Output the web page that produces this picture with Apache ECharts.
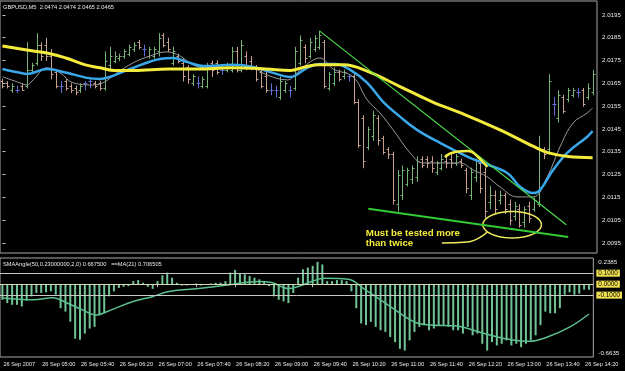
<!DOCTYPE html>
<html><head><meta charset="utf-8">
<script src="https://cdn.jsdelivr.net/npm/echarts@6/dist/echarts.min.js"></script>
<style>html,body{margin:0;padding:0;background:#000;}#c{width:625px;height:371px;}</style>
</head><body><div id="c"></div>
<script>
const headerText = 'GBPUSD,M5  2.0474 2.0474 2.0465 2.0465';
const oscText = 'SMAAngle(50,0.23000000,2,0) 0.667500   ==MA(21) 0.706505';
const timeLabels = ['26 Sep 2007','26 Sep 05:00','26 Sep 05:40','26 Sep 06:20','26 Sep 07:00','26 Sep 07:40','26 Sep 08:20','26 Sep 09:00','26 Sep 09:40','26 Sep 10:20','26 Sep 11:00','26 Sep 11:40','26 Sep 12:20','26 Sep 13:00','26 Sep 13:40','26 Sep 14:20'];
const barsPerLabel = 8;
const priceTicks = [2.0095,2.0105,2.0115,2.0125,2.0135,2.0145,2.0155,2.0165,2.0175,2.0185,2.0195];
const oscTicks = [0.2385,0.1,0,-0.1,-0.6635];
const oscLevels = [0.1,0,-0.1];

const opens = [2.0166,2.0165,2.0162,2.0162,2.0164,2.0164,2.0171,2.0174,2.0182,2.0182,
2.0177,2.0170,2.0164,2.0166,2.0164,2.0163,2.0162,2.0165,2.0166,2.0165,
2.0165,2.0163,2.0173,2.0175,2.0176,2.0177,2.0178,2.0180,2.0183,2.0180,
2.0177,2.0177,2.0179,2.0186,2.0183,2.0174,2.0177,2.0174,2.0172,2.0165,
2.0165,2.0164,2.0164,2.0174,2.0174,2.0171,2.0171,2.0171,2.0179,2.0171,
2.0177,2.0175,2.0172,2.0170,2.0168,2.0162,2.0162,2.0159,2.0162,2.0162,
2.0163,2.0174,2.0181,2.0177,2.0180,2.0181,2.0183,2.0163,2.0165,2.0170,
2.0168,2.0168,2.0168,2.0157,2.0150,2.0137,2.0142,2.0150,2.0141,2.0136,
2.0134,2.0112,2.0116,2.0121,2.0123,2.0124,2.0132,2.0132,2.0131,2.0126,
2.0128,2.0131,2.0132,2.0130,2.0131,2.0127,2.0116,2.0124,2.0130,2.0126,
2.0113,2.0116,2.0114,2.0116,2.0112,2.0107,2.0110,2.0104,2.0111,2.0110,
2.0112,2.0136,2.0136,2.0156,2.0150,2.0159,2.0158,2.0160,2.0161,2.0162,
2.0159,2.0161];
const highs = [2.0167,2.0166,2.0165,2.0164,2.0165,2.0183,2.0174,2.0187,2.0183,2.0185,
2.0180,2.0171,2.0166,2.0167,2.0165,2.0164,2.0165,2.0166,2.0167,2.0166,
2.0166,2.0179,2.0181,2.0179,2.0178,2.0180,2.0182,2.0183,2.0184,2.0182,
2.0181,2.0181,2.0187,2.0187,2.0185,2.0181,2.0178,2.0176,2.0173,2.0169,
2.0168,2.0168,2.0174,2.0175,2.0175,2.0173,2.0174,2.0181,2.0181,2.0184,
2.0179,2.0177,2.0173,2.0171,2.0170,2.0165,2.0164,2.0168,2.0166,2.0164,
2.0181,2.0186,2.0182,2.0185,2.0186,2.0188,2.0184,2.0170,2.0172,2.0171,
2.0171,2.0169,2.0169,2.0158,2.0151,2.0146,2.0153,2.0151,2.0142,2.0137,
2.0135,2.0127,2.0129,2.0128,2.0129,2.0133,2.0133,2.0133,2.0133,2.0131,
2.0134,2.0134,2.0134,2.0134,2.0132,2.0128,2.0128,2.0132,2.0131,2.0128,
2.0120,2.0118,2.0118,2.0117,2.0114,2.0113,2.0112,2.0111,2.0113,2.0115,
2.0142,2.0137,2.0169,2.0159,2.0162,2.0160,2.0163,2.0163,2.0163,2.0163,
2.0165,2.0171];
const lows = [2.0163,2.0163,2.0161,2.0161,2.0162,2.0163,2.0170,2.0173,2.0175,2.0175,
2.0167,2.0163,2.0161,2.0162,2.0161,2.0160,2.0161,2.0162,2.0163,2.0163,
2.0162,2.0162,2.0171,2.0174,2.0175,2.0176,2.0177,2.0179,2.0180,2.0177,
2.0176,2.0176,2.0177,2.0181,2.0179,2.0173,2.0174,2.0166,2.0165,2.0164,
2.0163,2.0163,2.0163,2.0168,2.0169,2.0169,2.0170,2.0170,2.0170,2.0170,
2.0171,2.0171,2.0166,2.0163,2.0161,2.0160,2.0159,2.0158,2.0161,2.0159,
2.0162,2.0173,2.0174,2.0176,2.0179,2.0180,2.0163,2.0162,2.0164,2.0166,
2.0167,2.0166,2.0156,2.0137,2.0128,2.0136,2.0140,2.0138,2.0134,2.0132,
2.0112,2.0109,2.0114,2.0120,2.0121,2.0122,2.0128,2.0128,2.0126,2.0125,
2.0127,2.0128,2.0128,2.0129,2.0128,2.0117,2.0114,2.0122,2.0117,2.0106,
2.0110,2.0108,2.0112,2.0108,2.0103,2.0105,2.0102,2.0102,2.0104,2.0109,
2.0111,2.0132,2.0134,2.0151,2.0148,2.0152,2.0157,2.0159,2.0159,2.0155,
2.0158,2.0160];
const closes = [2.0164,2.0164,2.0164,2.0162,2.0162,2.0171,2.0173,2.0182,2.0177,2.0177,
2.0169,2.0164,2.0164,2.0163,2.0162,2.0161,2.0164,2.0165,2.0166,2.0164,
2.0163,2.0175,2.0177,2.0177,2.0177,2.0179,2.0181,2.0182,2.0181,2.0180,
2.0180,2.0180,2.0185,2.0182,2.0180,2.0179,2.0175,2.0168,2.0167,2.0168,
2.0165,2.0167,2.0173,2.0171,2.0170,2.0171,2.0173,2.0179,2.0171,2.0182,
2.0172,2.0172,2.0167,2.0164,2.0162,2.0162,2.0162,2.0166,2.0165,2.0162,
2.0179,2.0184,2.0176,2.0183,2.0185,2.0186,2.0164,2.0169,2.0170,2.0167,
2.0170,2.0168,2.0157,2.0138,2.0131,2.0145,2.0151,2.0140,2.0135,2.0134,
2.0114,2.0125,2.0127,2.0127,2.0128,2.0131,2.0129,2.0130,2.0128,2.0130,
2.0132,2.0130,2.0130,2.0133,2.0129,2.0119,2.0126,2.0131,2.0119,2.0109,
2.0116,2.0110,2.0116,2.0110,2.0105,2.0111,2.0103,2.0110,2.0106,2.0114,
2.0136,2.0134,2.0166,2.0156,2.0160,2.0153,2.0162,2.0162,2.0161,2.0156,
2.0163,2.0169];

const yellowMA = [[0,2.01814],[6,2.01793],[10,2.01779],[13,2.01761],[17,2.01731],[20,2.01718],[23,2.01706],[27,2.01706],[34,2.01713],[40,2.01713],[47,2.01718],[54,2.01713],[59,2.01706],[62,2.01722],[65,2.01731],[70,2.01731],[75,2.01701],[81.5,2.01636],[88,2.0157],[95,2.01511],[102,2.01446],[109,2.01372],[112,2.01345],[116,2.01329],[121,2.01324]];
const blueMA = [[0,2.01713],[3.6,2.01696],[5,2.01691],[6.3,2.01696],[9.1,2.01713],[13.2,2.01696],[17.3,2.01674],[20,2.01669],[22,2.01678],[26.8,2.01718],[32.3,2.01757],[35,2.01761],[37.8,2.01744],[41.1,2.01726],[47.3,2.01731],[51.4,2.01722],[55.5,2.01696],[59,2.01678],[62.5,2.01718],[65.1,2.01735],[68.2,2.01735],[71.3,2.01709],[74.8,2.01652],[78,2.0157],[81.5,2.01504],[85,2.01446],[89.7,2.01389],[95.3,2.01329],[98.5,2.01301],[103.5,2.01257],[106.1,2.01197],[108.8,2.01169],[110.2,2.01182],[112.9,2.0127],[115.8,2.01345],[119.9,2.01416],[121,2.01441]];
const greyMA = [[0,2.01679],[3.6,2.01652],[5,2.01643],[6.3,2.01665],[9.1,2.01718],[11.8,2.01696],[14.5,2.01652],[18.6,2.01643],[20.6,2.01652],[23.5,2.01696],[26.8,2.0174],[30.3,2.0177],[33.7,2.01788],[36.4,2.0177],[39.1,2.01731],[41.9,2.01718],[47.3,2.01731],[51.4,2.01718],[54.2,2.01687],[58.4,2.01665],[60.4,2.01696],[63.1,2.01744],[65.1,2.01761],[67.8,2.01713],[71.9,2.01678],[74.8,2.01577],[77.4,2.0152],[80.1,2.01446],[83.6,2.01345],[86.2,2.01301],[89.7,2.01301],[93.8,2.01301],[96.5,2.0127],[99.4,2.0124],[102,2.01196],[105.5,2.01152],[108.8,2.01152],[111.7,2.0124],[114.3,2.01371],[117,2.01476],[119.9,2.0152],[121,2.01542]];

const oscHist = [-0.142,-0.172,-0.188,-0.188,-0.203,-0.15,-0.111,-0.08,-0.08,-0.074,
-0.065,-0.095,-0.219,-0.25,-0.342,-0.497,-0.506,-0.45,-0.404,-0.389,
-0.281,-0.265,-0.111,-0.065,-0.034,-0.024,-0.018,0.028,0.037,0.013,
-0.024,-0.043,0.028,0.081,0.105,0.059,0.013,-0.012,-0.012,-0.003,
0.006,-0.012,-0.006,0.006,0.013,0.013,0.028,0.105,0.13,0.099,
0.09,0.074,0.059,0.044,0.028,-0.018,-0.111,-0.142,-0.157,-0.172,
-0.08,0.059,0.136,0.151,0.167,0.204,0.18,0.028,0.028,0.037,
0.037,0.028,-0.065,-0.219,-0.358,-0.373,-0.343,-0.389,-0.42,-0.435,
-0.481,-0.528,-0.589,-0.605,-0.512,-0.435,-0.389,-0.373,-0.42,-0.404,
-0.373,-0.373,-0.389,-0.42,-0.42,-0.45,-0.389,-0.466,-0.45,-0.543,
-0.605,-0.528,-0.558,-0.543,-0.512,-0.558,-0.543,-0.574,-0.543,-0.512,
-0.466,-0.373,-0.25,-0.265,-0.265,-0.219,-0.096,-0.074,-0.096,-0.086,
-0.05,-0.05];
const oscMA = [[0,-0.126],[6.3,-0.142],[10.4,-0.123],[13.2,-0.169],[16.5,-0.234],[19.4,-0.281],[21.4,-0.253],[26.8,-0.16],[30.9,-0.114],[34.4,-0.067],[40.5,-0.04],[47.3,-0.003],[52.8,0.025],[55.5,0.016],[59,-0.04],[61,-0.021],[65.1,0.044],[66.6,0.053],[71.3,0.044],[74.8,-0.049],[80.1,-0.206],[85,-0.345],[88.3,-0.373],[93.8,-0.382],[98.5,-0.438],[103.5,-0.494],[108.8,-0.521],[112.3,-0.484],[117,-0.392],[121,-0.272]];

const upperTrend = [[65,2.0188],[115.6,2.0103]];
const lowerTrend = [[75,2.0110],[116,2.00976]];
const highlightArc = [[90.7,2.01327],[92.8,2.01349],[95.5,2.01353],[97.5,2.01327],[99.4,2.01283]];
const pointerLine = [[90.1,2.0095],[95.3,2.00954],[99.4,2.00998]];
const ellipseMark = [[104.5,2.0103,6,0.00058]];
const noteTexts = ['Must be tested more','than twice'];
const notePos = [[74.5,2.00994],[74.5,2.0095]];

const UP='#78b478', DOWN='#c8a090', DOJI='#6070d8';
const FONT='Liberation Sans';

const chart = echarts.init(document.getElementById('c'), null, {renderer:'canvas'});
const tickIdx = timeLabels.map((_,k)=>k*barsPerLabel);
const near=(a,b)=>Math.abs(a-b)<1e-9;

chart.setOption({
  backgroundColor:'#000',
  animation:false,
  title:[
    {text:headerText,left:3,top:4,padding:0,textStyle:{color:'#e8e8e8',fontSize:5.7,fontWeight:'normal',fontFamily:FONT}},
    {text:oscText,left:3,top:261,padding:0,textStyle:{color:'#e8e8e8',fontSize:5.7,fontWeight:'normal',fontFamily:FONT}}
  ],
  grid:[
    {left:0,top:1,width:597,height:252,show:true,borderColor:'#a8a8a8',borderWidth:1},
    {left:0,top:258,width:597,height:99,show:true,borderColor:'#a8a8a8',borderWidth:1}
  ],
  xAxis:[
    {gridIndex:0,type:'value',min:-0.5,max:121.9,show:false},
    {gridIndex:1,type:'value',min:-0.5,max:121.9,splitLine:{show:false},axisLine:{show:false},
     axisTick:{show:true,customValues:tickIdx,length:3,lineStyle:{color:'#c0c0c0'}},
     axisLabel:{customValues:tickIdx,formatter:(v)=>timeLabels[Math.round(v/barsPerLabel)],color:'#e8e8e8',fontSize:5.6,fontFamily:FONT,align:'left',margin:4,padding:[0,0,0,1]}}
  ],
  yAxis:[
    {gridIndex:0,type:'value',position:'right',min:2.00906,max:2.02011,splitLine:{show:false},axisLine:{show:false},
     axisTick:{show:true,customValues:priceTicks,length:3,lineStyle:{color:'#c0c0c0'}},
     axisLabel:{customValues:priceTicks,formatter:(v)=>v.toFixed(4),color:'#e8e8e8',fontSize:6.2,fontFamily:FONT,margin:5}},
    {gridIndex:1,type:'value',position:'right',min:-0.6635,max:0.2385,splitLine:{show:false},axisLine:{show:false},
     axisTick:{show:false},
     axisLabel:{customValues:oscTicks,margin:3,fontSize:6.2,fontFamily:FONT,color:'#e8e8e8',
       formatter:(v)=>{const s=v.toFixed(4); if(near(v,oscTicks[0])) return '{t|'+s+'}'; if(near(v,oscTicks[oscTicks.length-1])) return '{b|'+s+'}'; return '{y|'+s+'}';},
       rich:{t:{padding:[9,0,0,2],color:'#e8e8e8',fontSize:6.2,fontFamily:FONT},
             b:{padding:[0,0,7,2],color:'#e8e8e8',fontSize:6.2,fontFamily:FONT},
             y:{backgroundColor:'#f0e050',color:'#000',padding:[1,2,0,2],fontSize:6.4,fontFamily:FONT}}}}
  ],
  series:[
    {type:'custom',xAxisIndex:0,yAxisIndex:0,z:2,
     data:opens.map((o,i)=>[i,o,highs[i],lows[i],closes[i]]),
     encode:{x:0,y:[1,2,3,4]},
     renderItem:(params,api)=>{
       const i=api.value(0),o=api.value(1),h=api.value(2),l=api.value(3),c=api.value(4);
       const pH=api.coord([i,h]),pL=api.coord([i,l]),pO=api.coord([i,o]),pC=api.coord([i,c]);
       const x=Math.round(pH[0])+0.5;
       const col=c>o?UP:(c<o?DOWN:DOJI);
       const yo=Math.round(pO[1])+0.5, yc=Math.round(pC[1])+0.5;
       return {type:'group',children:[
         {type:'line',shape:{x1:x,y1:pH[1],x2:x,y2:pL[1]+0.5},style:{stroke:col,lineWidth:1}},
         {type:'line',shape:{x1:x-2,y1:yo,x2:x,y2:yo},style:{stroke:col,lineWidth:1}},
         {type:'line',shape:{x1:x,y1:yc,x2:x+2,y2:yc},style:{stroke:col,lineWidth:1}}
       ]};
     }},
    {type:'line',xAxisIndex:0,yAxisIndex:0,data:greyMA,showSymbol:false,smooth:0.4,z:3,lineStyle:{color:'#9a9a9a',width:1}},
    {type:'line',xAxisIndex:0,yAxisIndex:0,data:blueMA,showSymbol:false,smooth:0.4,z:4,lineStyle:{color:'#3aa8e8',width:2.5}},
    {type:'line',xAxisIndex:0,yAxisIndex:0,data:yellowMA,showSymbol:false,smooth:0.4,z:5,lineStyle:{color:'#f4ec3c',width:3}},
    {type:'line',xAxisIndex:0,yAxisIndex:0,data:upperTrend,showSymbol:false,z:6,lineStyle:{color:'#4cdc4c',width:1.2}},
    {type:'line',xAxisIndex:0,yAxisIndex:0,data:lowerTrend,showSymbol:false,z:6,lineStyle:{color:'#34cc34',width:2}},
    {type:'line',xAxisIndex:0,yAxisIndex:0,data:highlightArc,showSymbol:false,smooth:0.5,z:6,lineStyle:{color:'#f0ec40',width:2.5}},
    {type:'line',xAxisIndex:0,yAxisIndex:0,data:pointerLine,showSymbol:false,smooth:0.5,z:6,lineStyle:{color:'#f0ec60',width:1.5}},
    {type:'custom',xAxisIndex:0,yAxisIndex:0,z:6,data:ellipseMark,encode:{x:0,y:1},
     renderItem:(params,api)=>{
       const c=api.coord([api.value(0),api.value(1)]);
       const s=api.size([api.value(2),api.value(3)]);
       const pts=[];
       for(let k=0;k<=48;k++){const a=k/48*Math.PI*2;pts.push([c[0]+s[0]*Math.cos(a),c[1]+s[1]*Math.sin(a)]);}
       return {type:'polyline',shape:{points:pts},style:{stroke:'#f0ec60',lineWidth:1.5,fill:null}};
     }},
    {type:'custom',xAxisIndex:0,yAxisIndex:0,z:7,data:notePos,encode:{x:0,y:1},
     renderItem:(params,api)=>{
       const p=api.coord([api.value(0),api.value(1)]);
       return {type:'text',x:p[0],y:p[1],style:{text:noteTexts[params.dataIndex],fill:'#f4ec3c',font:'bold 9.7px "Liberation Sans"',align:'left',verticalAlign:'middle'}};
     }},
    {type:'bar',xAxisIndex:1,yAxisIndex:1,data:oscHist.map((v,i)=>[i,v]),barWidth:2,itemStyle:{color:'#72c496'},z:2,
     markLine:{silent:true,symbol:['none','none'],label:{show:false},
       data:oscLevels.map(v=>({yAxis:v,lineStyle:{color:v===0?'#d8d8b0':'#c8c8c8',width:1,type:'solid'}}))}},
    {type:'line',xAxisIndex:1,yAxisIndex:1,data:oscMA,showSymbol:false,smooth:0.4,z:4,lineStyle:{color:'#5cc090',width:1.5}}
  ]
});
</script>
</body></html>
